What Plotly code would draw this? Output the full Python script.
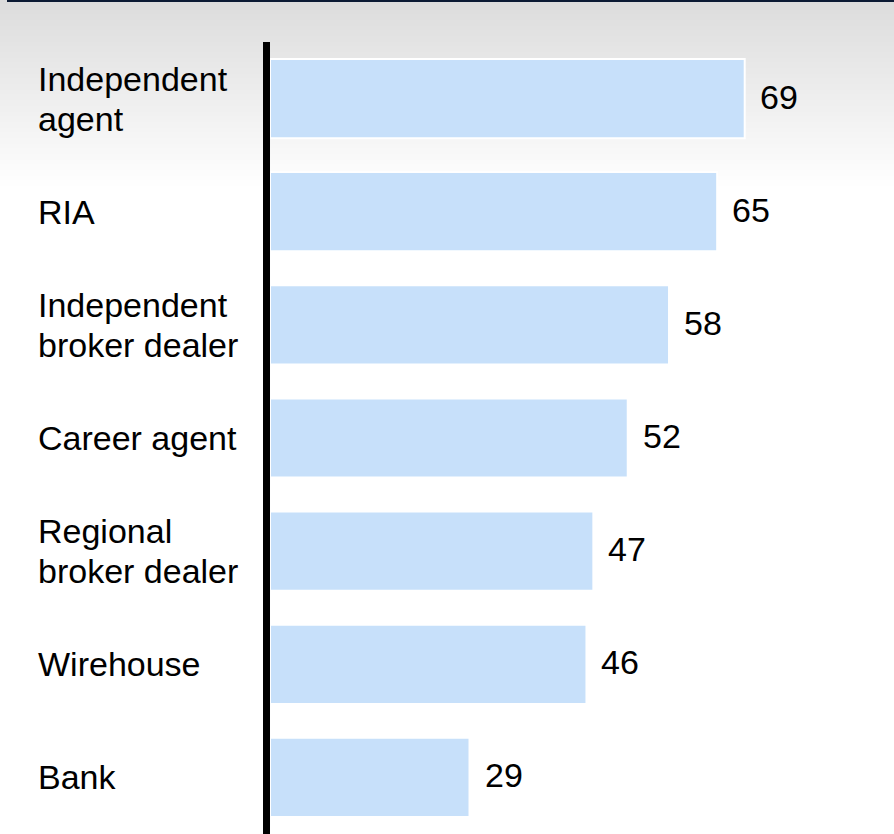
import plotly.graph_objects as go

# Share of respondents by distribution channel
channels = ["Independent agent", "RIA", "Independent broker dealer", "Career agent",
            "Regional broker dealer", "Wirehouse", "Bank"]
label_lines = [["Independent", "agent"], ["RIA"], ["Independent", "broker dealer"],
               ["Career agent"], ["Regional", "broker dealer"], ["Wirehouse"], ["Bank"]]
values = [69, 65, 58, 52, 47, 46, 29]

W, H = 894, 834
TOP = 42
PLOT_LEFT = 270
FONT = "Liberation Sans, Arial, Helvetica, sans-serif"
FS = 34


def py_to_paper(py):
    return (H - py) / (H - TOP)


fig = go.Figure()
fig.add_trace(go.Bar(
    x=values, y=channels, orientation="h",
    marker=dict(color="#c7e0fa", line=dict(color="white", width=2)),
    width=0.7, hoverinfo="skip",
))

shapes = []
# soft grey-to-white gradient across the top of the canvas
steps = 95
for i in range(steps):
    y0, y1 = i * 2, i * 2 + 2.5
    t = i / (steps - 1)
    c = int(round(220 + (255 - 220) * t))
    shapes.append(dict(type="rect", xref="paper", yref="paper",
                       x0=0, x1=1, y0=py_to_paper(y1), y1=py_to_paper(y0),
                       fillcolor=f"rgb({c},{c},{c})", line=dict(width=0), layer="below"))
# thin dark rule along the top edge
shapes.append(dict(type="rect", xref="paper", yref="paper",
                   x0=7 / W, x1=1, y0=py_to_paper(2), y1=py_to_paper(0),
                   fillcolor="#0b1a33", line=dict(width=0), layer="above"))
# heavy vertical axis line
shapes.append(dict(type="line", xref="paper", yref="paper",
                   x0=266.5 / W, x1=266.5 / W, y0=0, y1=1,
                   line=dict(color="black", width=7), layer="above"))

annotations = []
LINE_GAP = 40
for ch, lines in zip(channels, label_lines):
    n = len(lines)
    for k, ln in enumerate(lines):
        off = (n - 1) / 2 * LINE_GAP - k * LINE_GAP
        annotations.append(dict(text=ln, xref="paper", yref="y", x=36 / W, y=ch,
                                xanchor="left", yanchor="middle", yshift=off,
                                showarrow=False, font=dict(family=FONT, size=FS, color="black")))
for ch, v in zip(channels, values):
    annotations.append(dict(text=str(v), xref="x", yref="y", x=v, y=ch,
                            xanchor="left", yanchor="middle", xshift=13, yshift=2,
                            showarrow=False, font=dict(family=FONT, size=FS, color="black")))

fig.update_layout(
    width=W, height=H,
    margin=dict(l=0, r=0, t=TOP, b=0),
    paper_bgcolor="white", plot_bgcolor="rgba(0,0,0,0)",
    showlegend=False,
    xaxis=dict(domain=[PLOT_LEFT / W, 1], range=[0, 90.7], visible=False, fixedrange=True),
    yaxis=dict(categoryorder="array", categoryarray=channels, range=[6.5, -0.5],
               visible=False, fixedrange=True),
    shapes=shapes, annotations=annotations,
    bargap=0.3,
)

fig.write_html("out.html", config={"displayModeBar": False})
